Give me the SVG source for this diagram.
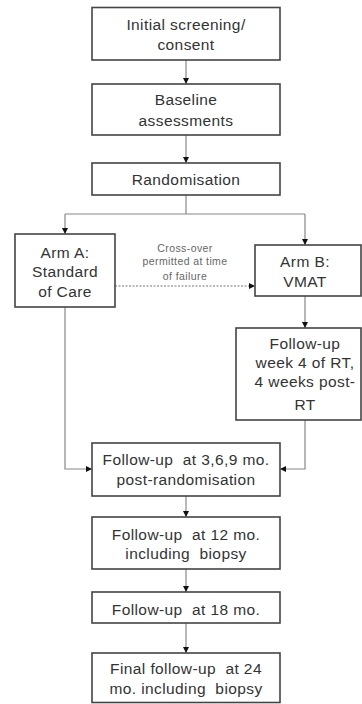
<svg xmlns="http://www.w3.org/2000/svg" width="362" height="704" viewBox="0 0 362 704">
<defs>
<marker id="ah" markerWidth="6" markerHeight="6" refX="6" refY="3" orient="auto" markerUnits="userSpaceOnUse">
<path d="M0,0 L6,3 L0,6 Z" fill="#111"/>
</marker>
</defs>
<style>
.box{fill:#fff;stroke:#444;stroke-width:1.6}
.t{font-family:"Liberation Sans",Arial,sans-serif;font-size:15.5px;letter-spacing:0.4px;fill:#333;text-anchor:middle;white-space:pre}
.s{font-family:"Liberation Sans",Arial,sans-serif;font-size:10.5px;letter-spacing:0.4px;fill:#666;text-anchor:middle}
.c{fill:none;stroke:#888;stroke-width:1.2}
.d{fill:none;stroke:#777;stroke-width:1.2;stroke-dasharray:2,1.5}
</style>
<rect width="362" height="704" fill="#fff"/>
<g id="connectors">
<path class="c" d="M186,60 V84" marker-end="url(#ah)"/>
<path class="c" d="M186,135 V163" marker-end="url(#ah)"/>
<path class="c" d="M186,195 V214 M65,214 H305"/>
<path class="c" d="M65,214 V234" marker-end="url(#ah)"/>
<path class="c" d="M305,214 V245" marker-end="url(#ah)"/>
<path class="d" d="M115,286 H255" marker-end="url(#ah)"/>
<path class="c" d="M305,296 V328" marker-end="url(#ah)"/>
<path class="c" d="M65,307 V469 H92" marker-end="url(#ah)"/>
<path class="c" d="M305,420 V469 H280" marker-end="url(#ah)"/>
<path class="c" d="M186,496 V517" marker-end="url(#ah)"/>
<path class="c" d="M186,569 V592" marker-end="url(#ah)"/>
<path class="c" d="M186,623 V653" marker-end="url(#ah)"/>
</g>
<g id="screening">
<rect class="box" x="92" y="7.5" width="188" height="52.5"/>
<text class="t" x="186" y="30">Initial screening/</text>
<text class="t" x="186" y="50">consent</text>
</g>
<g id="baseline">
<rect class="box" x="92" y="84" width="188" height="51"/>
<text class="t" x="186" y="105">Baseline</text>
<text class="t" x="186" y="126">assessments</text>
</g>
<g id="randomisation">
<rect class="box" x="92" y="163" width="188" height="32"/>
<text class="t" x="186" y="185">Randomisation</text>
</g>
<g id="armA">
<rect class="box" x="15" y="234" width="100" height="73"/>
<text class="t" x="65" y="258">Arm A:</text>
<text class="t" x="65" y="277">Standard</text>
<text class="t" x="65" y="297">of Care</text>
</g>
<g id="crossover">
<text class="s" x="185" y="252">Cross-over</text>
<text class="s" x="185" y="265">permitted at time</text>
<text class="s" x="185" y="280">of failure</text>
</g>
<g id="armB">
<rect class="box" x="255" y="245" width="106" height="51"/>
<text class="t" x="305" y="267">Arm B:</text>
<text class="t" x="305" y="287">VMAT</text>
</g>
<g id="followupRT">
<rect class="box" x="236" y="328" width="125" height="92"/>
<text class="t" x="305" y="349">Follow-up</text>
<text class="t" x="305" y="368">week 4 of RT,</text>
<text class="t" x="305" y="387">4 weeks post-</text>
<text class="t" x="305" y="410">RT</text>
</g>
<g id="followup369">
<rect class="box" x="92" y="443" width="188" height="53"/>
<text class="t" x="186" y="465">Follow-up  at 3,6,9 mo.</text>
<text class="t" x="186" y="485">post-randomisation</text>
</g>
<g id="followup12">
<rect class="box" x="92" y="517" width="188" height="52"/>
<text class="t" x="186" y="540">Follow-up  at 12 mo.</text>
<text class="t" x="186" y="559">including  biopsy</text>
</g>
<g id="followup18">
<rect class="box" x="92" y="592" width="188" height="31"/>
<text class="t" x="186" y="615">Follow-up  at 18 mo.</text>
</g>
<g id="final">
<rect class="box" x="92" y="653" width="188" height="49.5"/>
<text class="t" x="186" y="674">Final follow-up  at 24</text>
<text class="t" x="186" y="694">mo. including  biopsy</text>
</g>
</svg>
